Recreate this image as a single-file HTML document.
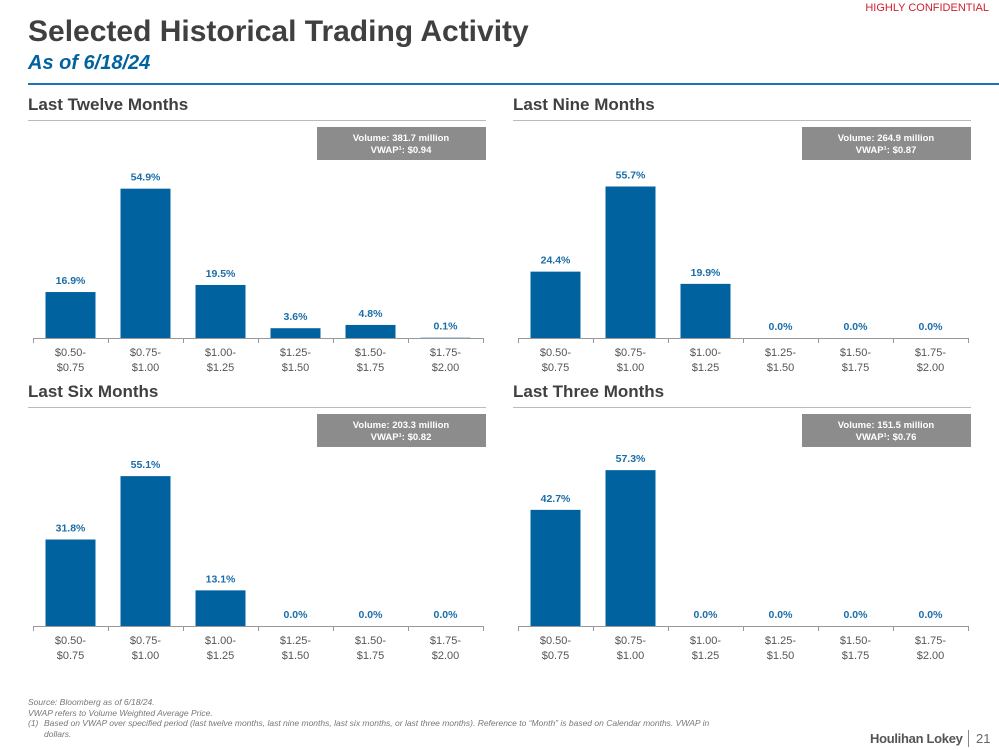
<!DOCTYPE html>
<html><head><meta charset="utf-8"><style>
body{margin:0;background:#fff;font-family:"Liberation Sans",Arial,sans-serif;}
#page{position:relative;width:999px;height:750px;overflow:hidden;}
.abs{position:absolute;}
</style></head><body>
<div id="page">
<div class="abs" style="right:10px;top:2px;color:#d0202a;font-size:11px;">HIGHLY CONFIDENTIAL</div>
<div class="abs" style="left:28px;top:15px;font-size:30px;font-weight:bold;color:#404040;">Selected Historical Trading Activity</div>
<div class="abs" style="left:28px;top:52px;font-size:20px;font-weight:bold;font-style:italic;color:#0063a0;">As of 6/18/24</div>
<div class="abs" style="left:28px;top:83px;width:971px;height:2px;background:#1a75b0;"></div>
<svg id="charts" class="abs" style="left:0;top:0" width="999" height="750"></svg>
<div class="abs" style="left:28px;top:697px;font-size:8.5px;font-style:italic;color:#777;line-height:10.5px;">
Source: Bloomberg as of 6/18/24.<br>VWAP refers to Volume Weighted Average Price.<br>
<span style="display:inline-block;width:16px">(1)</span>Based on VWAP over specified period (last twelve months, last nine months, last six months, or last three months). Reference to “Month” is based on Calendar months. VWAP in<br><span style="display:inline-block;width:16px"></span>dollars.</div>
<div class="abs" style="left:870px;top:731px;font-size:13px;font-weight:bold;color:#555;letter-spacing:-0.3px;">Houlihan Lokey</div>
<div class="abs" style="left:968px;top:730px;width:1px;height:17px;background:#888;"></div>
<div class="abs" style="left:976px;top:731px;font-size:13px;color:#666;">21</div>
</div>
<script>
const categories=["$0.50-|$0.75","$0.75-|$1.00","$1.00-|$1.25","$1.25-|$1.50","$1.50-|$1.75","$1.75-|$2.00"];
const titles=["Last Twelve Months","Last Nine Months","Last Six Months","Last Three Months"];
const volumes=["381.7","264.9","203.3","151.5"];
const vwaps=["$0.94","$0.87","$0.82","$0.76"];
const ltm=[16.9,54.9,19.5,3.6,4.8,0.1];
const l9m=[24.4,55.7,19.9,0.0,0.0,0.0];
const l6m=[31.8,55.1,13.1,0.0,0.0,0.0];
const l3m=[42.7,57.3,0.0,0.0,0.0,0.0];
const series=[ltm,l9m,l6m,l3m];
const svg=document.getElementById('charts');
const NS='http://www.w3.org/2000/svg';
function mk(tag,attrs,parent){const e=document.createElementNS(NS,tag);for(const k in attrs)e.setAttribute(k,attrs[k]);(parent||svg).appendChild(e);return e;}
const pxPer=2.72;
const origins=[[33,338],[518,338],[33,626],[518,626]];
const hdrY=[104,104,391,391];
series.forEach((vals,p)=>{
  const [x0,y0]=origins[p];
  const g=mk('g',{});
  
  
  const t=mk('text',{x:x0-5,y:hdrY[p]+6,'font-size':17,'font-weight':'bold',fill:'#404040'},g);t.textContent=titles[p];
  
  
  const r=mk('rect',{x:x0-5,y:hdrY[p]+16,width:458,height:1,fill:'#bbb'},g);
  
  
  const by=hdrY[p]+23;
  const box=mk('rect',{x:x0+284,y:by,width:169,height:33,fill:'#8c8c8c'},g);
  
  
  const b1=mk('text',{x:x0+368,y:by+14,'font-size':9.5,'font-weight':'bold',fill:'#fff','text-anchor':'middle'},g);b1.textContent='Volume: '+volumes[p]+' million';
  
  
  const b2=mk('text',{x:x0+368,y:by+26,'font-size':9.5,'font-weight':'bold',fill:'#fff','text-anchor':'middle'},g);b2.textContent='VWAP¹: '+vwaps[p];
  
  
  const ax=mk('rect',{x:x0,y:y0,width:450,height:1,fill:'#999'},g);
  
  
  const cw=75;
  for(let i=0;i<=6;i++){const tk=mk('rect',{x:x0+i*cw,y:y0,width:1,height:5,fill:'#999'},g);
    
    }
  vals.forEach((v,i)=>{
    const cx=x0+i*cw+cw/2;const h=v*pxPer;
    const b=mk('rect',{x:cx-25,y:y0-h,width:50,height:h,fill:'#0063a0'},g);
    
    
    const l=mk('text',{x:cx,y:y0-h-8,'font-size':10.5,'font-weight':'bold',fill:'#1a6ea8','text-anchor':'middle'},g);
    l.textContent=v.toFixed(1)+'%';
    
    
    const parts=categories[i].split('|');
    parts.forEach((s,j)=>{const c=mk('text',{x:cx,y:y0+18+j*15,'font-size':11,fill:'#555','text-anchor':'middle'},g);c.textContent=s;
      
      });
  });
});
</script>
</body></html>
